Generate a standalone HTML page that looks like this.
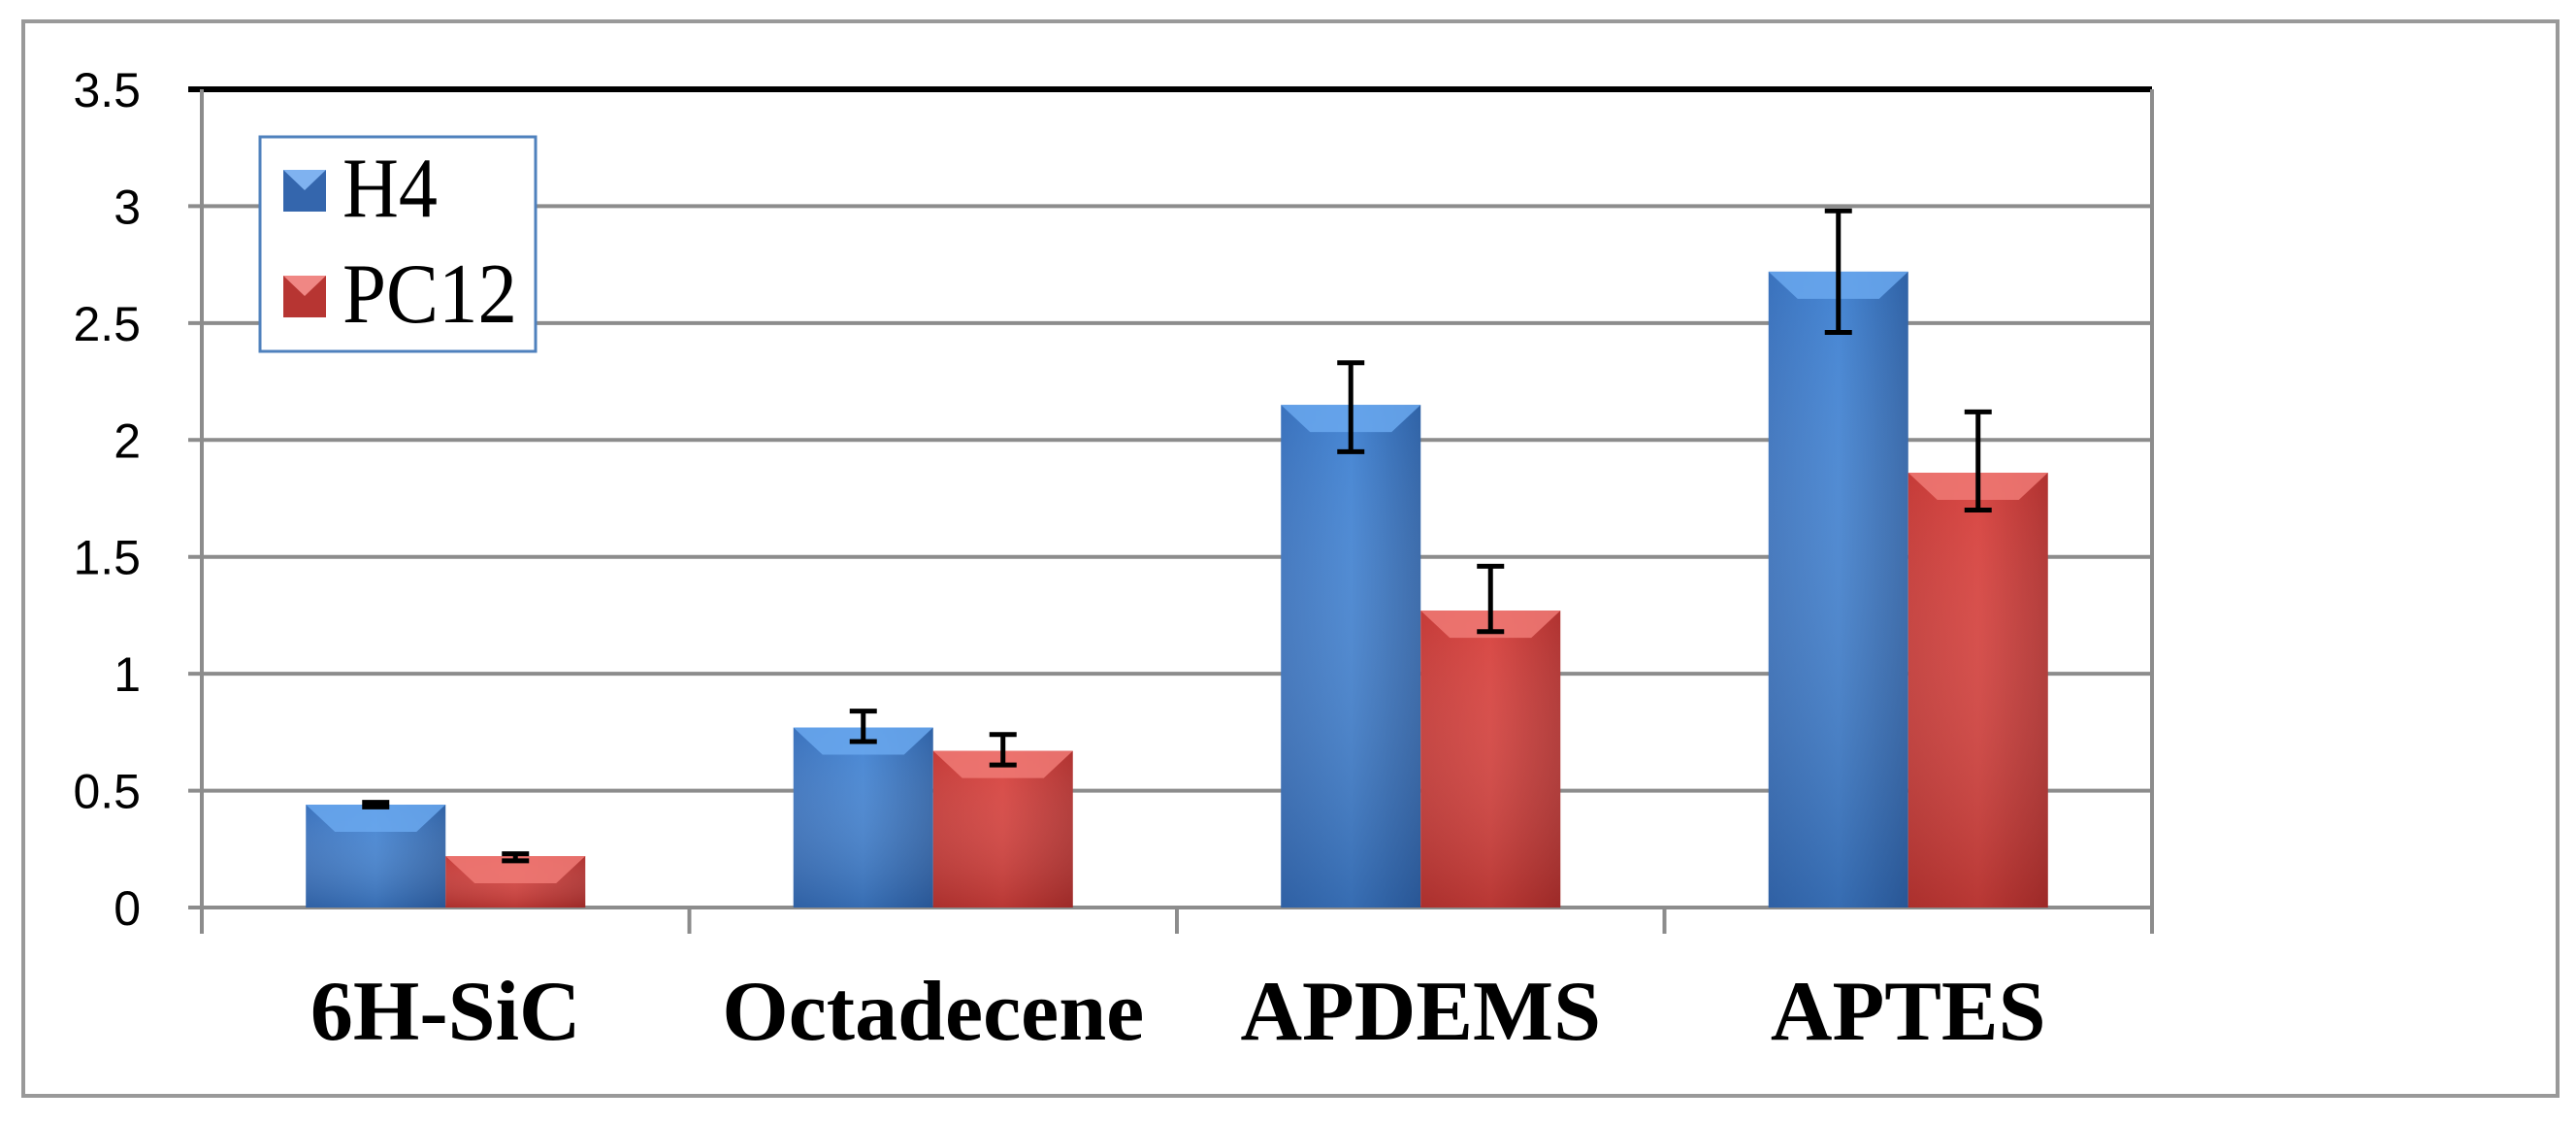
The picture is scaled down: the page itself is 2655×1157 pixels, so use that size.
<!DOCTYPE html>
<html><head><meta charset="utf-8"><style>
html,body{margin:0;padding:0;background:#fff;}
svg{display:block;}
</style></head><body>
<svg width="2655" height="1157" viewBox="0 0 2655 1157" xmlns="http://www.w3.org/2000/svg">
<defs>
<linearGradient id="gb" x1="0" x2="1" y1="0" y2="0">
<stop offset="0" stop-color="#3a72bd"/><stop offset="0.5" stop-color="#4585d3"/><stop offset="1" stop-color="#2f62a6"/></linearGradient>
<linearGradient id="gbv" x1="0" x2="0" y1="0" y2="1">
<stop offset="0" stop-color="#fff" stop-opacity="0"/><stop offset="1" stop-color="#1b3f75" stop-opacity="0.35"/></linearGradient>
<linearGradient id="gr" x1="0" x2="1" y1="0" y2="0">
<stop offset="0" stop-color="#c53b38"/><stop offset="0.5" stop-color="#d84642"/><stop offset="1" stop-color="#b03230"/></linearGradient>
<linearGradient id="grv" x1="0" x2="0" y1="0" y2="1">
<stop offset="0" stop-color="#fff" stop-opacity="0"/><stop offset="1" stop-color="#6e1412" stop-opacity="0.3"/></linearGradient>
</defs>
<rect x="24" y="22" width="2612" height="1107" fill="#fff" stroke="#999" stroke-width="4"/>
<g id="grid"></g><g id="bars"></g><g id="axes"></g>
<g>
<rect x="268" y="141" width="284" height="221" fill="#fff" stroke="#4f81bd" stroke-width="3"/>
<rect x="292" y="175" width="44" height="43" fill="#3466ad"/>
<polygon points="292,175 336,175 314,196" fill="#7fb2f0"/>
<text x="353" y="223" font-family="Liberation Serif, serif" font-size="88" textLength="98" lengthAdjust="spacingAndGlyphs">H4</text>
<rect x="292" y="284" width="44" height="43" fill="#b73532"/>
<polygon points="292,284 336,284 314,305" fill="#f08784"/>
<text x="353" y="332" font-family="Liberation Serif, serif" font-size="88" textLength="180" lengthAdjust="spacingAndGlyphs">PC12</text>
</g>
</svg>
<script>
const categories=["6H-SiC","Octadecene","APDEMS","APTES"];
const h4=[0.44,0.77,2.15,2.72];
const pc12=[0.22,0.67,1.27,1.86];
const h4ErrUp=[0.45,0.84,2.33,2.98];
const h4ErrDown=[0.43,0.71,1.95,2.46];
const pcErrUp=[0.23,0.74,1.46,2.12];
const pcErrDown=[0.20,0.61,1.18,1.70];
const yTicks=[0,0.5,1,1.5,2,2.5,3,3.5];
const yTickLabels=["0","0.5","1","1.5","2","2.5","3","3.5"];
const NS="http://www.w3.org/2000/svg";
const X0=208,X1=2218,Y0=935,Y1=92,YMAX=3.5;
const y=v=>Y0-(v/YMAX)*(Y0-Y1);
const bandW=(X1-X0)/categories.length;
const cx=i=>X0+bandW*(i+0.5);
const BW=144;
function mk(t,a,p){const e=document.createElementNS(NS,t);for(const k in a)e.setAttribute(k,a[k]);p.appendChild(e);return e;}
const grid=document.getElementById('grid'),bars=document.getElementById('bars'),axes=document.getElementById('axes');
yTicks.forEach((v,i)=>{
 const top=v===YMAX;
 const l=mk('line',{x1:X0-14,x2:X1,y1:y(v),y2:y(v),stroke:top?'#000':'#8c8c8c','stroke-width':top?6:4},grid);
 
 
 const t=mk('text',{x:145,y:y(v)+18,'text-anchor':'end','font-family':'Liberation Sans, sans-serif','font-size':50,fill:'#000'},axes);
 t.textContent=yTickLabels[i];
 
 
});
mk('line',{x1:X0,x2:X0,y1:Y1,y2:962,stroke:'#8c8c8c','stroke-width':4},axes);
mk('line',{x1:X1,x2:X1,y1:Y1,y2:962,stroke:'#8c8c8c','stroke-width':4},axes);
for(let i=1;i<categories.length;i++)mk('line',{x1:X0+bandW*i,x2:X0+bandW*i,y1:Y0,y2:962,stroke:'#8c8c8c','stroke-width':4},axes);
function bar(x,v,fill,vfill,hi,name){
 const g=mk('g',{},bars);
 
 
 mk('rect',{x:x,y:y(v),width:BW,height:Y0-y(v),fill:fill},g);
 mk('rect',{x:x,y:y(v),width:BW,height:Y0-y(v),fill:vfill},g);
 mk('polygon',{points:`${x},${y(v)} ${x+BW},${y(v)} ${x+BW-30},${y(v)+28} ${x+30},${y(v)+28}`,fill:hi,opacity:0.85},g);
}
function err(x,up,dn,name){
 const g=mk('g',{stroke:'#000','stroke-width':5},bars);
 
 
 mk('line',{x1:x,x2:x,y1:y(up),y2:y(dn)},g);
 mk('line',{x1:x-14,x2:x+14,y1:y(up),y2:y(up)},g);
 mk('line',{x1:x-14,x2:x+14,y1:y(dn),y2:y(dn)},g);
}
categories.forEach((c,i)=>{
 const c0=cx(i);
 bar(c0-BW,h4[i],'url(#gb)','url(#gbv)','#6aa8ee','bar-h4-'+i);
 bar(c0,pc12[i],'url(#gr)','url(#grv)','#f07a76','bar-pc12-'+i);
 err(c0-BW/2,h4ErrUp[i],h4ErrDown[i],'error-bar-h4-'+i);
 err(c0+BW/2,pcErrUp[i],pcErrDown[i],'error-bar-pc12-'+i);
 const t=mk('text',{x:c0,y:1071,'text-anchor':'middle','font-family':'Liberation Serif, serif','font-weight':'bold','font-size':88,fill:'#000'},axes);
 t.textContent=c;
 
 
});
</script>
</body></html>
